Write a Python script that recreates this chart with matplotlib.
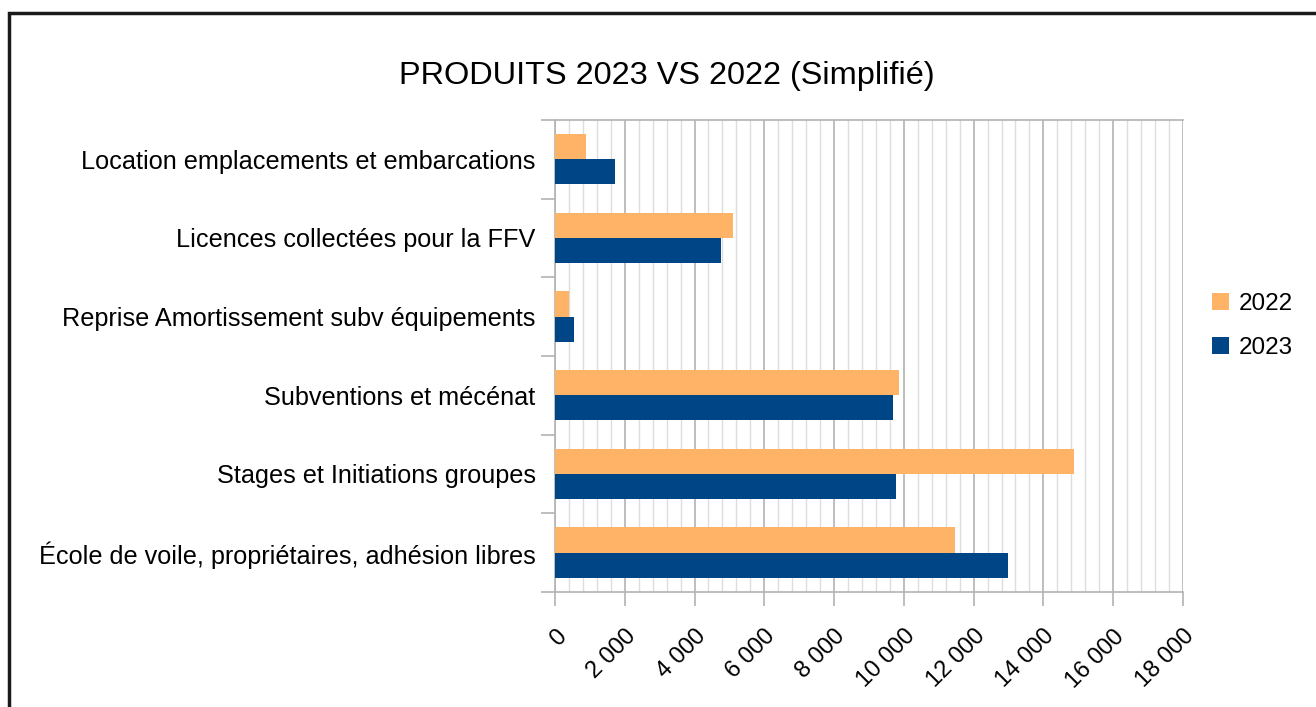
import numpy as np
import matplotlib.pyplot as plt
from matplotlib.ticker import MultipleLocator, FuncFormatter
from matplotlib.patches import Rectangle

# Categories listed bottom to top
categories = [
    "École de voile, propriétaires, adhésion libres",
    "Stages et Initiations groupes",
    "Subventions et mécénat",
    "Reprise Amortissement subv équipements",
    "Licences collectées pour la FFV",
    "Location emplacements et embarcations",
]
values_2022 = [11480, 14890, 9850, 390, 5090, 890]
values_2023 = [12990, 9780, 9680, 550, 4750, 1730]
years = ["2022", "2023"]

orange = "#FFB366"
blue = "#004586"

plt.rcParams["font.family"] = ["Liberation Sans", "DejaVu Sans"]

fig = plt.figure(figsize=(13.16, 7.07), dpi=100)
ax = fig.add_axes([0.4217, 0.1627, 0.4772, 0.6676])

y = np.arange(len(categories))
h = 0.32
ax.barh(y + h / 2, values_2022, height=h, color=orange, label=years[0], zorder=3)
ax.barh(y - h / 2, values_2023, height=h, color=blue, label=years[1], zorder=3)

ax.set_xlim(0, 18000)
ax.set_ylim(-0.5, len(categories) - 0.5)

ax.xaxis.set_major_locator(MultipleLocator(2000))
ax.xaxis.set_minor_locator(MultipleLocator(400))
ax.xaxis.set_major_formatter(FuncFormatter(lambda v, p: f"{int(v):,}".replace(",", " ")))
ax.grid(axis="x", which="major", color="#b3b3b3", linewidth=1.2, zorder=0)
ax.grid(axis="x", which="minor", color="#dddddd", linewidth=1.0, zorder=0)
ax.tick_params(axis="x", which="major", length=10, color="#b3b3b3", width=1.2,
               labelsize=17, pad=14)
ax.tick_params(axis="x", which="minor", length=0)
for lbl in ax.get_xticklabels():
    lbl.set_rotation(45)
    lbl.set_ha("right")
    lbl.set_va("top")
    lbl.set_rotation_mode("anchor")

ax.set_yticks(y)
ax.set_yticklabels(categories)
ax.set_yticks(np.arange(len(categories) + 1) - 0.5, minor=True)
ax.tick_params(axis="y", which="major", length=0, labelsize=18.2, pad=14)
ax.tick_params(axis="y", which="minor", length=10, color="#b3b3b3", width=1.2)

for s in ax.spines.values():
    s.set_color("#b3b3b3")
    s.set_linewidth(1.2)
ax.spines["right"].set_visible(False)

fig.text(0.507, 0.892, "PRODUITS 2023 VS 2022 (Simplifié)", ha="center", va="center",
         fontsize=23.4)

ax.legend(loc="center left", bbox_to_anchor=(1.012, 0.5636), frameon=False, fontsize=17.5,
          handlelength=0.7, handleheight=0.7, handletextpad=0.4, labelspacing=0.9)

# outer frame (cut off at right/bottom like the screenshot)
fig.patches.append(Rectangle((9 / 1316, -0.1), 1.2, 1 - 13 / 707 + 0.1,
                             transform=fig.transFigure, fill=False,
                             edgecolor="#1a1a1a", linewidth=2.5))

fig.savefig("out.png", dpi=100)
